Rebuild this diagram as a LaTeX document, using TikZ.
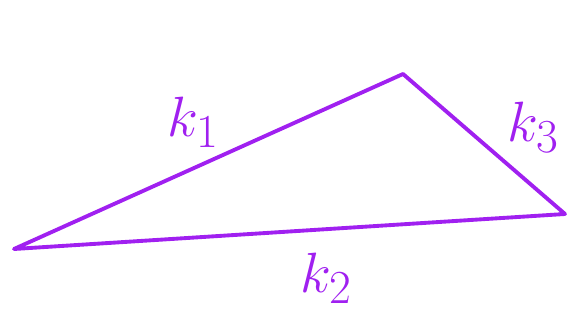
\documentclass[tikz,border=0pt]{standalone}
\usepackage{amsmath}

\begin{document}
\begin{tikzpicture}[
    x=0.02cm,
    y=-0.02cm,
    line join=round,
    line cap=round,
    edge/.style={draw=stroke, line width=2.2pt},
    lbl/.style={text=stroke, font=\fontsize{24.88}{28}\selectfont, scale=1.3}
]
\definecolor{stroke}{HTML}{A020F0}

% =========================
% Canvas
% =========================
\useasboundingbox (0,0) rectangle (582,320);

% =========================
% Vertices
% =========================
\coordinate (left) at (14,249);
\coordinate (top) at (403,74);
\coordinate (right) at (565,214);

% =========================
% Sides
% =========================
\draw[edge] (left) -- (top) -- (right) -- cycle;

% =========================
% Labels
% =========================
\node[lbl] (kone) at (193,122) {$k_1$};
\node[lbl] (kthree) at (533,127) {$k_3$};
\node[lbl] (ktwo) at (326,278) {$k_2$};

\end{tikzpicture}
\end{document}
